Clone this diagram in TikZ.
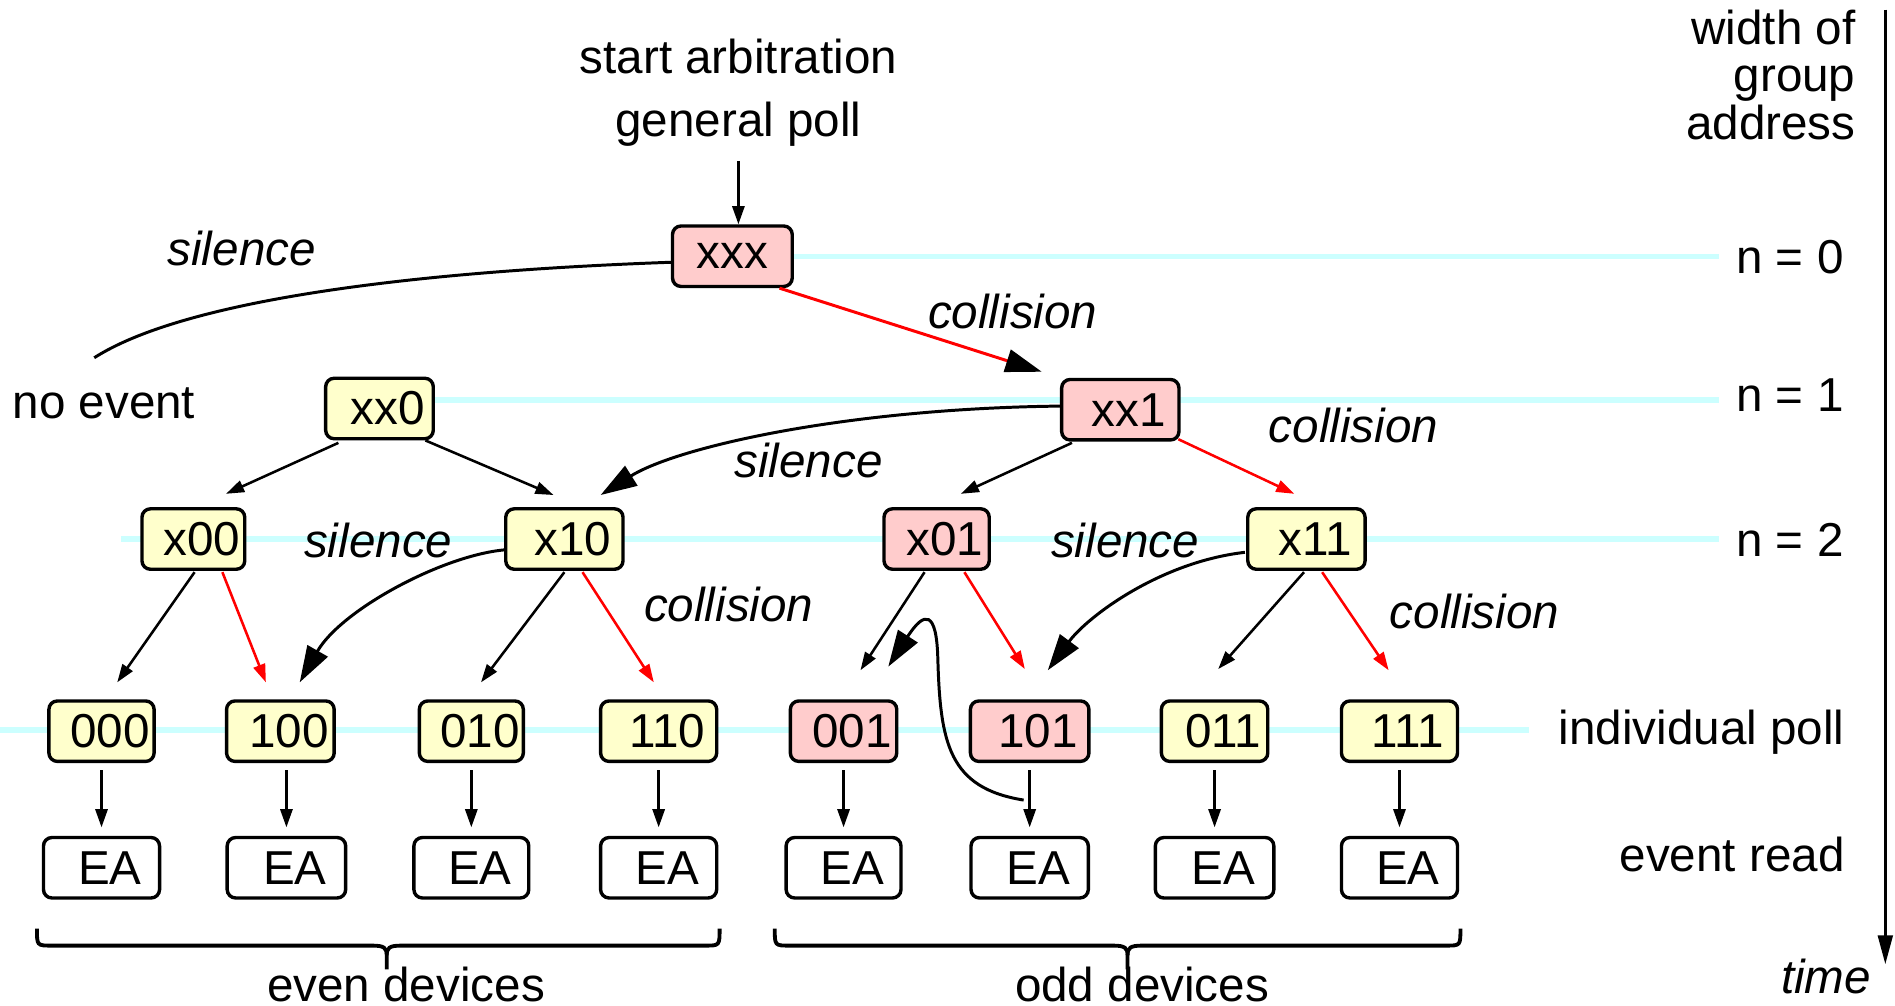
\documentclass[tikz,border=0pt]{standalone}
\usepackage{fontspec}
\setmainfont{Liberation Sans}
\usetikzlibrary{arrows.meta,calc}
\definecolor{pinkc}{HTML}{FFCCCC}
\definecolor{yelc}{HTML}{FFFFCC}
\definecolor{cyanc}{HTML}{CCFFFF}
\newcommand{\bxt}[1]{\hspace*{0.14cm}#1}
\begin{document}
\begin{tikzpicture}[x=0.01cm,y=-0.01cm,
  every node/.style={font=\fontsize{11.2}{13}\selectfont, inner sep=0pt},
  box/.style={draw, line width=0.8pt, rounded corners=0.07cm, minimum height=0.5cm, inner sep=0pt},
  pbox/.style={box, fill=pinkc},
  ybox/.style={box, fill=yelc},
  ebox/.style={box, fill=white},
  lvl/.style={cyanc, line width=1.2pt},
  arr/.style={line width=0.6pt, -{Triangle[length=0.15cm,width=0.1cm]}},
  rarr/.style={arr, red},
  bigarr/.style={line width=0.7pt, -{Triangle[length=0.3cm,width=0.19cm]}},
  rbigarr/.style={red, line width=0.7pt, -{Triangle[length=0.3cm,width=0.19cm,color=black]}},
  lab/.style={font=\fontsize{11.2}{13}\selectfont\itshape},
  brc/.style={line width=0.9pt}
]
\useasboundingbox (0,0) rectangle (1568,832);

% level rules
\draw[lvl] (656,212) -- (1422,212);
\draw[lvl] (359,331) -- (1422,331);
\draw[lvl] (100,446) -- (1422,446);
\draw[lvl] (0,604) -- (1265,604);

% top texts
\node (sa) at (611,47) {start arbitration};
\node (gp) at (611,103) {general poll};

% boxes
\node[pbox, minimum width=0.99cm] (xxx) at (606,212) {xxx};
\node[ybox, minimum width=0.89cm] (xx0) at (314,338) {\bxt{xx0}};
\node[pbox, minimum width=0.97cm] (xx1) at (927,339) {\bxt{xx1}};
\node[ybox, minimum width=0.85cm] (x00) at (160,446) {\bxt{x00}};
\node[ybox, minimum width=0.97cm] (x10) at (467,446) {\bxt{x10}};
\node[pbox, minimum width=0.87cm] (x01) at (775,446) {\bxt{x01}};
\node[ybox, minimum width=0.97cm] (x11) at (1081,446) {\bxt{x11}};

\node[ybox, minimum width=0.87cm] (n000) at (84,605) {\bxt{000}};
\node[ybox, minimum width=0.89cm] (n100) at (232,605) {\bxt{100}};
\node[ybox, minimum width=0.86cm] (n010) at (390,605) {\bxt{010}};
\node[ybox, minimum width=0.96cm] (n110) at (545,605) {\bxt{110}};
\node[pbox, minimum width=0.88cm] (n001) at (698,605) {\bxt{001}};
\node[pbox, minimum width=0.98cm] (n101) at (852,605) {\bxt{101}};
\node[ybox, minimum width=0.88cm] (n011) at (1005,605) {\bxt{011}};
\node[ybox, minimum width=0.96cm] (n111) at (1158,605) {\bxt{111}};

\node[ebox, minimum width=0.96cm] (ea1) at (84,718) {\bxt{EA}};
\node[ebox, minimum width=0.98cm] (ea2) at (237,718) {\bxt{EA}};
\node[ebox, minimum width=0.95cm] (ea3) at (390,718) {\bxt{EA}};
\node[ebox, minimum width=0.96cm] (ea4) at (545,718) {\bxt{EA}};
\node[ebox, minimum width=0.95cm] (ea5) at (698,718) {\bxt{EA}};
\node[ebox, minimum width=0.97cm] (ea6) at (852,718) {\bxt{EA}};
\node[ebox, minimum width=0.98cm] (ea7) at (1005,718) {\bxt{EA}};
\node[ebox, minimum width=0.96cm] (ea8) at (1158,718) {\bxt{EA}};

% labels
\node[lab] (ls1) at (200,206) {silence};
\node (noev) at (86,334) {no event};
\node[lab] (lc1) at (838,258) {collision};
\node[lab] (ls2) at (669,381) {silence};
\node[lab] (lc2) at (1120,352) {collision};
\node[lab] (ls3) at (313,447) {silence};
\node[lab] (ls4) at (931,447) {silence};
\node[lab] (lc3) at (603,500) {collision};
\node[lab] (lc4) at (1220,506) {collision};

% right column
\node[anchor=east, align=right, font=\fontsize{11.2}{11.1}\selectfont] (wga) at (1536,62) {width of\\group\\address};
\node[anchor=west] (nn0) at (1436,213) {n = 0};
\node[anchor=west] (nn1) at (1436,327) {n = 1};
\node[anchor=west] (nn2) at (1436,447) {n = 2};
\node[anchor=east] (ipoll) at (1527,606) {individual poll};
\node[anchor=east] (eread) at (1527,707) {event read};
\node[lab] (time) at (1511,808) {time};
\coordinate (ttop) at (1560,8);
\coordinate (tbot) at (1560,798);
\draw[line width=0.8pt, -{Triangle[length=0.24cm,width=0.12cm]}] (ttop) -- (tbot);

% connectors
\draw[arr] ($(gp.south)+(0,11)$) -- (gp.south |- xxx.north);
\coordinate (noevtop) at (78,296);
\draw[line width=0.7pt] ($(xxx.west)+(0,5)$) .. controls (330,225) and (150,250) .. (noevtop);
\draw[rbigarr] ($(xxx.south)+(39,0)$) -- ($(xx1.north)+(-65,-5)$);

\draw[arr] ($(xx0.south)+(-34,2)$) -- ($(x00.north)+(27,-11)$);
\draw[arr] ($(xx0.south)+(38,0)$) -- ($(x10.north)+(-9,-10)$);
\draw[bigarr] ($(xx1.west)+(0,-3)$) .. controls (700,338) and (560,370) .. ($(x10.north)+(30,-10)$);
\draw[arr] ($(xx1.south)+(-40,1)$) -- ($(x01.north)+(20,-11)$);
\draw[rarr] ($(xx1.south)+(48,-2)$) -- ($(x11.north)+(-10,-11)$);

\draw[arr] ($(x00.south)+(1,1)$) -- ($(n000.north)+(13,-14)$);
\draw[rarr] ($(x00.south)+(24,1)$) -- ($(n100.north)+(-12,-14)$);
\draw[bigarr] ($(x10.west)+(0,9)$) .. controls (365,460) and (282,505) .. ($(n100.north)+(16,-14)$);
\draw[arr] ($(x10.south)+(0,1)$) -- ($(n010.north)+(8,-14)$);
\draw[rarr] ($(x10.south)+(15,1)$) -- ($(n110.north)+(-4,-14)$);

\draw[arr] ($(x01.south)+(-10,1)$) -- ($(n001.north)+(14,-24)$);
\draw[rarr] ($(x01.south)+(23,1)$) -- ($(n101.north)+(-4,-25)$);
\draw[bigarr] ($(x11.west)+(-1,11)$) .. controls (960,465) and (900,510) .. ($(n101.north)+(15,-24)$);
\draw[arr] ($(x11.south)+(-2,1)$) -- ($(n011.north)+(3,-25)$);
\draw[rarr] ($(x11.south)+(13,1)$) -- ($(n111.north)+(-9,-24)$);

\coordinate (back) at (847,662);
\draw[bigarr] (back) .. controls (785,652) and (778,615) .. (776,545) .. controls (775,505) and (765,505) .. ($(n001.north)+(37,-27)$);

\foreach \a/\b in {n000/ea1,n100/ea2,n010/ea3,n110/ea4,n001/ea5,n101/ea6,n011/ea7,n111/ea8}{
  \draw[arr] ($(\b.north |- \a.south)+(0,6)$) -- ($(\b.north)+(0,-7)$);
}

% braces
\coordinate (bL1) at ($(ea1.south west)+(-4,24)$);
\coordinate (bR1) at ($(ea4.south east)+(1,24)$);
\coordinate (bT1) at (320,802);
\draw[brc] (bL1) .. controls ($(bL1)+(0,14)$) .. ($(bL1)+(12,14)$) -- ($(bT1 |- bL1)+(-12,14)$)
  .. controls ($(bT1 |- bL1)+(-2,14)$) and ($(bT1 |- bL1)+(0,16)$) .. ($(bT1 |- bL1)+(0,22)$) -- (bT1);
\draw[brc] (bR1) .. controls ($(bR1)+(0,14)$) .. ($(bR1)+(-12,14)$) -- ($(bT1 |- bL1)+(12,14)$)
  .. controls ($(bT1 |- bL1)+(2,14)$) and ($(bT1 |- bL1)+(0,16)$) .. ($(bT1 |- bL1)+(0,22)$);
\coordinate (bL2) at ($(ea5.south west)+(-8,24)$);
\coordinate (bR2) at ($(ea8.south east)+(1,24)$);
\coordinate (bT2) at (933,802);
\draw[brc] (bL2) .. controls ($(bL2)+(0,14)$) .. ($(bL2)+(12,14)$) -- ($(bT2 |- bL2)+(-12,14)$)
  .. controls ($(bT2 |- bL2)+(-2,14)$) and ($(bT2 |- bL2)+(0,16)$) .. ($(bT2 |- bL2)+(0,22)$) -- (bT2);
\draw[brc] (bR2) .. controls ($(bR2)+(0,14)$) .. ($(bR2)+(-12,14)$) -- ($(bT2 |- bL2)+(12,14)$)
  .. controls ($(bT2 |- bL2)+(2,14)$) and ($(bT2 |- bL2)+(0,16)$) .. ($(bT2 |- bL2)+(0,22)$);
\node (even) at (336,815) {even devices};
\node (odd) at (945,815) {odd devices};
\end{tikzpicture}
\end{document}
